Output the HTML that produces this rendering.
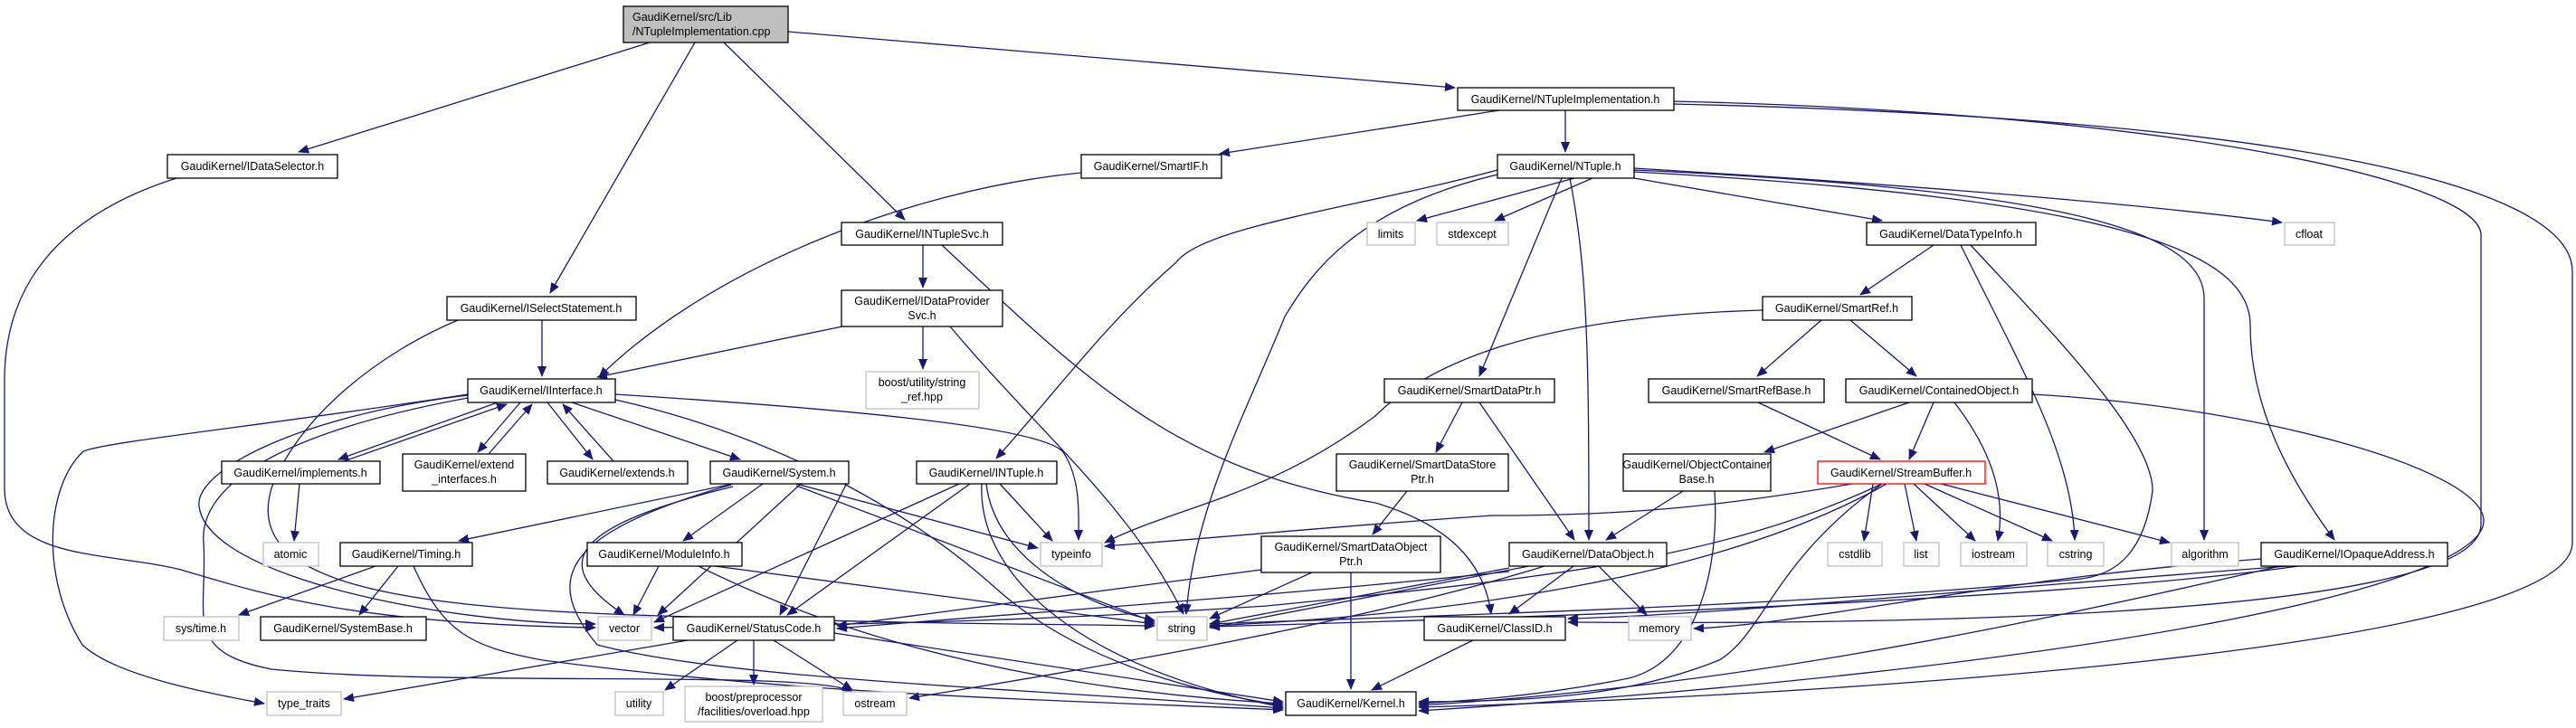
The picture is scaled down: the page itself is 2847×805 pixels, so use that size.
<!DOCTYPE html>
<html><head><meta charset="utf-8"><style>
html,body{margin:0;padding:0;background:#fff;}
svg{display:block;}
text{font-family:"Liberation Sans",Arial,sans-serif;font-size:12.5px;fill:#000;}
.e{fill:none;stroke:#191970;stroke-width:1.3;}
.n{fill:#fff;stroke:#000;stroke-width:1.3;}
.g{fill:#fff;stroke:#bfbfbf;stroke-width:1.3;}
</style></head><body>
<svg width="2847" height="805" viewBox="0 0 2847 805" xmlns="http://www.w3.org/2000/svg">
<defs><marker id="a" markerUnits="userSpaceOnUse" markerWidth="12" markerHeight="10" refX="11" refY="5" orient="auto"><path d="M0,0 L12,5 L0,10 z" fill="#191970"/></marker></defs>
<g class="e" marker-end="url(#a)">
<path d="M718,47 L330,168"/>
<path d="M768,47 L608,324"/>
<path d="M800,47 L1000,243"/>
<path d="M871,35 L1608,97"/>
<path d="M195,197 C60,240 5,320 5,420 L5,540 C5,620 120,610 200,630 C300,660 400,690 658,694"/>
<path d="M599,354 L599,416"/>
<path d="M506,354 C420,390 330,460 300,540 C270,640 420,670 700,680 C1000,690 1150,690 1276,692"/>
<path d="M1195,191 C1000,210 780,300 662,417"/>
<path d="M931,361 L660,417"/>
<path d="M1020,271 L1020,318"/>
<path d="M1041,271 C1200,420 1300,520 1520,556 C1600,580 1640,620 1648,679"/>
<path d="M1020,361 L1020,408"/>
<path d="M1050,361 C1150,480 1250,560 1308,679"/>
<path d="M550,445 L374,508"/>
<path d="M380,510 L560,447"/>
<path d="M575,445 L528,500"/>
<path d="M540,502 L588,447"/>
<path d="M605,445 L655,508"/>
<path d="M678,510 L622,447"/>
<path d="M632,445 L818,508"/>
<path d="M517,436 C300,470 100,490 91,500 C50,540 45,640 91,713 C130,750 250,770 292,778"/>
<path d="M517,440 C300,480 220,540 225,600 C230,680 200,720 300,740 C500,760 900,740 942,765"/>
<path d="M517,437 C330,460 215,520 220,560 C230,640 500,690 658,690"/>
<path d="M680,436 C900,450 1150,470 1175,500 C1195,530 1192,570 1192,597"/>
<path d="M680,442 C850,480 1000,560 1100,650 C1200,740 1350,770 1418,780"/>
<path d="M331,535 L325,598"/>
<path d="M810,535 L507,598"/>
<path d="M843,535 L755,598"/>
<path d="M885,535 L727,680"/>
<path d="M810,538 C640,580 600,620 690,680"/>
<path d="M880,535 L1147,606"/>
<path d="M880,537 L1276,688"/>
<path d="M938,530 L862,680"/>
<path d="M808,536 C620,590 600,640 660,713 C800,750 1100,760 1418,783"/>
<path d="M415,626 L264,680"/>
<path d="M440,626 L397,680"/>
<path d="M457,626 C490,700 520,715 600,730 C900,770 1200,775 1418,785"/>
<path d="M728,626 L700,680"/>
<path d="M772,626 C900,690 1100,760 1418,778"/>
<path d="M790,626 L1276,690"/>
<path d="M760,708 L380,773"/>
<path d="M815,708 L735,763"/>
<path d="M833,708 L833,757"/>
<path d="M855,708 L942,763"/>
<path d="M922,700 L1418,776"/>
<path d="M1657,122 L1348,170"/>
<path d="M1730,122 L1730,168"/>
<path d="M1850,115 C2500,130 2843,200 2843,300 L2843,600 C2843,720 2000,770 1568,782"/>
<path d="M1850,112 C2400,125 2742,200 2742,260 L2742,580 C2742,690 2000,690 1733,688"/>
<path d="M1740,197 L1566,244"/>
<path d="M1760,197 L1652,244"/>
<path d="M1806,197 L2080,244"/>
<path d="M1806,186 C2200,210 2400,230 2522,246"/>
<path d="M1655,188 C1500,230 1330,250 1300,290 C1220,360 1170,430 1101,507"/>
<path d="M1655,193 C1500,230 1450,300 1420,350 C1380,450 1320,560 1311,679"/>
<path d="M1726,197 L1635,416"/>
<path d="M1735,197 C1755,300 1756,400 1756,597"/>
<path d="M1806,188 C2300,210 2436,260 2436,330 L2436,597"/>
<path d="M1806,190 C2350,220 2487,280 2487,360 C2487,450 2530,530 2580,597"/>
<path d="M2137,271 L2056,326"/>
<path d="M2167,271 C2230,400 2290,500 2293,597"/>
<path d="M2178,271 C2260,360 2380,480 2379,543 C2370,610 2340,635 2300,640 C2000,670 1600,680 1337,690"/>
<path d="M2013,354 L1942,416"/>
<path d="M2045,354 L2118,416"/>
<path d="M1948,343 C1700,350 1580,400 1520,460 C1400,550 1300,560 1221,600"/>
<path d="M2110,445 L1950,500"/>
<path d="M2137,445 L2110,508"/>
<path d="M2160,445 C2210,510 2215,560 2208,598"/>
<path d="M2246,436 C2500,450 2745,520 2745,576 C2745,650 2300,740 1568,786"/>
<path d="M1943,445 L2078,508"/>
<path d="M2070,535 L2060,598"/>
<path d="M2105,535 L2118,598"/>
<path d="M2115,535 L2183,598"/>
<path d="M2127,535 L2268,598"/>
<path d="M2145,535 L2398,600"/>
<path d="M2047,535 C1900,560 1800,570 1650,570 C1500,580 1400,590 1221,604"/>
<path d="M2080,535 C1900,620 1700,640 1400,670 C1100,690 900,690 723,694"/>
<path d="M2085,535 C1900,640 1600,680 1337,692"/>
<path d="M2080,535 C1960,620 1950,700 1900,730 C1800,770 1700,775 1568,776"/>
<path d="M1616,445 L1587,500"/>
<path d="M1635,445 L1740,597"/>
<path d="M1555,543 L1517,591"/>
<path d="M1493,633 L1493,762"/>
<path d="M1450,633 L1337,684"/>
<path d="M1394,630 L925,692"/>
<path d="M1628,708 L1516,763"/>
<path d="M1739,626 L1668,679"/>
<path d="M1767,626 L1820,680"/>
<path d="M1668,628 L1337,690"/>
<path d="M1690,626 L1337,694"/>
<path d="M1707,626 C1500,690 1200,740 1005,772"/>
<path d="M1668,632 C1400,660 1100,680 925,695"/>
<path d="M1860,543 L1775,597"/>
<path d="M1895,543 C1900,620 1880,730 1800,750 C1700,770 1620,775 1568,778"/>
<path d="M2540,626 C2300,660 1800,680 1337,693"/>
<path d="M2530,626 C2200,650 1900,680 1733,684"/>
<path d="M2520,626 C2200,700 1900,760 1568,780"/>
<path d="M2499,618 C2200,640 2000,690 1872,695"/>
<path d="M1105,535 L1163,598"/>
<path d="M1090,535 C1100,620 1200,670 1276,686"/>
<path d="M1085,535 C1080,640 1200,740 1418,782"/>
<path d="M1060,535 L723,688"/>
<path d="M1072,535 L870,680"/>
</g>
<g>
<rect x="689" y="7" width="182" height="40" fill="#bfbfbf" stroke="#000" stroke-width="1.3"/>
<text x="699" y="23">GaudiKernel/src/Lib</text><text x="699" y="39">/NTupleImplementation.cpp</text>
</g>
<g text-anchor="middle">
<rect class="n" x="185" y="171" width="188" height="26"/><text x="279" y="188">GaudiKernel/IDataSelector.h</text>
<rect class="n" x="494" y="328" width="209" height="26"/><text x="598" y="345">GaudiKernel/ISelectStatement.h</text>
<rect class="n" x="517" y="419" width="163" height="26"/><text x="598" y="436">GaudiKernel/IInterface.h</text>
<rect class="n" x="245" y="510" width="175" height="25"/><text x="332" y="527">GaudiKernel/implements.h</text>
<rect class="n" x="445" y="502" width="136" height="41"/><text x="513" y="518">GaudiKernel/extend</text><text x="513" y="534">_interfaces.h</text>
<rect class="n" x="605" y="510" width="155" height="25"/><text x="682" y="527">GaudiKernel/extends.h</text>
<rect class="n" x="785" y="510" width="153" height="25"/><text x="861" y="527">GaudiKernel/System.h</text>
<rect class="g" x="291" y="600" width="61" height="26"/><text x="321" y="617">atomic</text>
<rect class="n" x="376" y="600" width="146" height="26"/><text x="449" y="617">GaudiKernel/Timing.h</text>
<rect class="n" x="649" y="600" width="171" height="26"/><text x="734" y="617">GaudiKernel/ModuleInfo.h</text>
<rect class="g" x="181" y="682" width="83" height="26"/><text x="222" y="699">sys/time.h</text>
<rect class="n" x="288" y="682" width="183" height="26"/><text x="379" y="699">GaudiKernel/SystemBase.h</text>
<rect class="g" x="661" y="682" width="59" height="26"/><text x="690" y="699">vector</text>
<rect class="n" x="744" y="682" width="178" height="26"/><text x="833" y="699">GaudiKernel/StatusCode.h</text>
<rect class="g" x="295" y="765" width="82" height="26"/><text x="336" y="782">type_traits</text>
<rect class="g" x="680" y="765" width="53" height="26"/><text x="706" y="782">utility</text>
<rect class="g" x="757" y="759" width="152" height="39"/><text x="833" y="775">boost/preprocessor</text><text x="833" y="791">/facilities/overload.hpp</text>
<rect class="g" x="932" y="765" width="70" height="26"/><text x="967" y="782">ostream</text>
<rect class="n" x="1611" y="97" width="239" height="25"/><text x="1730" y="114">GaudiKernel/NTupleImplementation.h</text>
<rect class="n" x="1195" y="171" width="155" height="26"/><text x="1272" y="188">GaudiKernel/SmartIF.h</text>
<rect class="n" x="1655" y="171" width="151" height="26"/><text x="1730" y="188">GaudiKernel/NTuple.h</text>
<rect class="n" x="930" y="246" width="178" height="25"/><text x="1019" y="263">GaudiKernel/INTupleSvc.h</text>
<rect class="n" x="930" y="321" width="178" height="40"/><text x="1019" y="337">GaudiKernel/IDataProvider</text><text x="1019" y="353">Svc.h</text>
<rect class="g" x="1511" y="246" width="53" height="25"/><text x="1537" y="263">limits</text>
<rect class="g" x="1588" y="246" width="79" height="25"/><text x="1627" y="263">stdexcept</text>
<rect class="g" x="957" y="411" width="125" height="41"/><text x="1019" y="427">boost/utility/string</text><text x="1019" y="443">_ref.hpp</text>
<rect class="n" x="1013" y="510" width="155" height="25"/><text x="1090" y="527">GaudiKernel/INTuple.h</text>
<rect class="g" x="1150" y="600" width="68" height="26"/><text x="1184" y="617">typeinfo</text>
<rect class="n" x="1530" y="419" width="188" height="26"/><text x="1624" y="436">GaudiKernel/SmartDataPtr.h</text>
<rect class="n" x="1477" y="502" width="190" height="41"/><text x="1572" y="518">GaudiKernel/SmartDataStore</text><text x="1572" y="534">Ptr.h</text>
<rect class="n" x="1794" y="502" width="163" height="41"/><text x="1875" y="518">GaudiKernel/ObjectContainer</text><text x="1875" y="534">Base.h</text>
<rect class="n" x="1394" y="593" width="198" height="40"/><text x="1493" y="609">GaudiKernel/SmartDataObject</text><text x="1493" y="625">Ptr.h</text>
<rect class="n" x="1668" y="600" width="174" height="26"/><text x="1755" y="617">GaudiKernel/DataObject.h</text>
<rect class="g" x="1279" y="682" width="55" height="26"/><text x="1306" y="699">string</text>
<rect class="n" x="1574" y="682" width="156" height="26"/><text x="1652" y="699">GaudiKernel/ClassID.h</text>
<rect class="g" x="1800" y="682" width="69" height="26"/><text x="1834" y="699">memory</text>
<rect class="n" x="1421" y="765" width="144" height="26"/><text x="1493" y="782">GaudiKernel/Kernel.h</text>
<rect class="n" x="2063" y="246" width="187" height="25"/><text x="2156" y="263">GaudiKernel/DataTypeInfo.h</text>
<rect class="g" x="2525" y="246" width="55" height="25"/><text x="2552" y="263">cfloat</text>
<rect class="n" x="1948" y="328" width="165" height="26"/><text x="2030" y="345">GaudiKernel/SmartRef.h</text>
<rect class="n" x="1822" y="419" width="194" height="26"/><text x="1919" y="436">GaudiKernel/SmartRefBase.h</text>
<rect class="n" x="2040" y="419" width="206" height="26"/><text x="2143" y="436">GaudiKernel/ContainedObject.h</text>
<rect x="2009" y="510" width="185" height="25" fill="#fff" stroke="#ff0000" stroke-width="1.3"/><text x="2101" y="527">GaudiKernel/StreamBuffer.h</text>
<rect class="g" x="2020" y="600" width="60" height="26"/><text x="2050" y="617">cstdlib</text>
<rect class="g" x="2104" y="600" width="39" height="26"/><text x="2123" y="617">list</text>
<rect class="g" x="2167" y="600" width="73" height="26"/><text x="2203" y="617">iostream</text>
<rect class="g" x="2263" y="600" width="62" height="26"/><text x="2294" y="617">cstring</text>
<rect class="g" x="2400" y="600" width="74" height="26"/><text x="2437" y="617">algorithm</text>
<rect class="n" x="2499" y="600" width="206" height="26"/><text x="2602" y="617">GaudiKernel/IOpaqueAddress.h</text>
</g>
</svg>
</body></html>
